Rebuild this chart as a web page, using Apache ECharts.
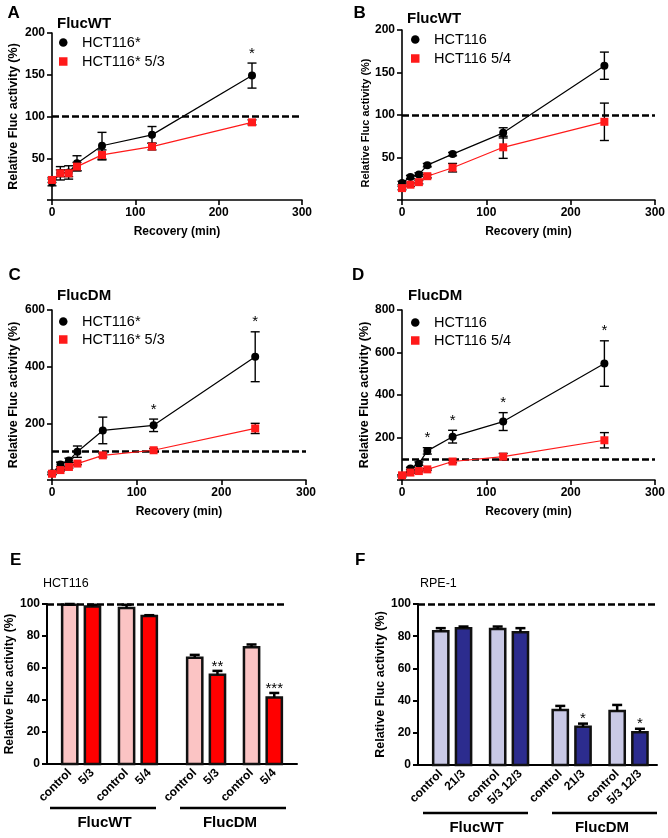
<!DOCTYPE html>
<html><head><meta charset="utf-8">
<script src="https://cdn.jsdelivr.net/npm/echarts@6/dist/echarts.min.js"></script>
<style>html,body{margin:0;padding:0;background:#fff}#c{width:668px;height:838px}</style>
</head><body><div id="c"></div>
<script>
// ---------- data ----------
const times = [0, 10, 20, 30, 60, 120, 240];

const aBlack = [21, 32, 33, 44, 65, 78, 149];
const aBlackErr = [4, 8, 8, 9, 16, 10, 15];
const aRed = [24, 32, 32, 40, 54, 64, 93];
const aRedErr = [3, 4, 4, 5, 6, 4, 3];
const aSig = ['', '', '', '', '', '', '*'];

const bBlack = [20, 27, 30, 41, 54, 79, 158];
const bBlackErr = [2, 2, 2, 2, 2, 6, 16];
const bRed = [14, 18, 21, 28, 38, 62, 92];
const bRedErr = [2, 2, 2, 2, 5, 13, 22];
const bSig = ['', '', '', '', '', '', ''];

const cBlack = [24, 55, 69, 100, 175, 193, 435];
const cBlackErr = [5, 8, 8, 20, 47, 22, 88];
const cRed = [22, 35, 46, 58, 87, 105, 182];
const cRedErr = [3, 3, 4, 4, 6, 6, 18];
const cSig = ['', '', '', '', '', '*', '*'];

const dBlack = [19, 54, 77, 137, 204, 275, 548];
const dBlackErr = [5, 6, 8, 15, 30, 42, 107];
const dRed = [22, 35, 42, 50, 87, 110, 187];
const dRedErr = [3, 3, 3, 4, 6, 15, 36];
const dSig = ['', '', '', '*', '*', '*', '*'];

const eCats = ['control', '5/3', 'control', '5/4', 'control', '5/3', 'control', '5/4'];
const eVals = [99.5, 98.5, 97.5, 92.5, 66.4, 55.8, 73, 41.5];
const eErr = [0.5, 1, 2, 0.5, 1.8, 2.4, 1.7, 2.9];
const eSig = ['', '', '', '', '', '**', '', '***'];

const fCats = ['control', '21/3', 'control', '5/3 12/3', 'control', '21/3', 'control', '5/3 12/3'];
const fVals = [83, 85, 84.5, 82.5, 34.2, 23.7, 33.5, 20.4];
const fErr = [2, 1, 1.5, 2.5, 2.5, 2, 3.8, 2.1];
const fSig = ['', '', '', '', '', '*', '', '*'];

const groupNames = ['FlucWT', 'FlucDM'];
const yName = 'Relative Fluc activity (%)';
const xName = 'Recovery (min)';

// ---------- layout / style ----------
const FONT = 'Liberation Sans, Arial, sans-serif';
const chart = echarts.init(document.getElementById('c'), null, {renderer: 'canvas'});

const grids = [], xAxes = [], yAxes = [], series = [], legends = [], graphics = [];

function errRender(capHalf, lw, upOnly) {
  return function (params, api) {
    const x = api.value(0), m = api.value(1), e = api.value(2);
    const pTop = api.coord([x, m + e]);
    const pBot = upOnly ? api.coord([x, m]) : api.coord([x, m - e]);
    const st = {stroke: '#000', lineWidth: lw};
    const ch = [
      {type: 'line', shape: {x1: pTop[0], y1: pTop[1], x2: pBot[0], y2: pBot[1]}, style: st},
      {type: 'line', shape: {x1: pTop[0] - capHalf, y1: pTop[1], x2: pTop[0] + capHalf, y2: pTop[1]}, style: st}
    ];
    if (!upOnly) ch.push({type: 'line', shape: {x1: pBot[0] - capHalf, y1: pBot[1], x2: pBot[0] + capHalf, y2: pBot[1]}, style: st});
    return {type: 'group', children: ch};
  };
}
function barRender(colors, halfW) {
  return function (params, api) {
    const x = api.value(0), v = api.value(1);
    const pTop = api.coord([x, v]);
    const pBot = api.coord([x, 0]);
    return {type: 'rect', shape: {x: pTop[0] - halfW, y: pTop[1], width: halfW * 2, height: pBot[1] - pTop[1]},
      style: {fill: colors[params.dataIndex % 2], stroke: '#111', lineWidth: 2.5}};
  };
}
function sigRender(labels, dy, size) {
  return function (params, api) {
    const t = labels[params.dataIndex];
    if (!t) return null;
    const p = api.coord([api.value(0), api.value(1)]);
    return {type: 'text', style: {text: t, x: p[0], y: p[1] + dy, align: 'center', verticalAlign: 'bottom',
      textAlign: 'center', textVerticalAlign: 'bottom', font: size + 'px ' + FONT, fill: '#000'}};
  };
}
function txt(text, x, y, font, align) {
  graphics.push({type: 'text', silent: true, style: {text, x, y, font: font + ' ' + FONT, fill: '#000',
    align: align || 'left', verticalAlign: 'middle', textAlign: align || 'left', textVerticalAlign: 'middle'}});
}
function hline(x1, x2, y, w) {
  graphics.push({type: 'line', silent: true, shape: {x1, y1: y, x2, y2: y}, style: {stroke: '#000', lineWidth: w}});
}

const axisLineStyle = {color: '#000', width: 1.6};
const labelStyle = {color: '#000', fontWeight: 'bold', fontSize: 12, fontFamily: FONT};

function linePanel(cfg) {
  const i = grids.length;
  grids.push(cfg.grid);
  xAxes.push({type: 'value', gridIndex: i, min: 0, max: 300, interval: 100,
    axisLine: {show: true, onZero: false, lineStyle: axisLineStyle},
    axisTick: {show: true, length: 5, lineStyle: axisLineStyle},
    axisLabel: Object.assign({margin: 7}, labelStyle), splitLine: {show: false},
    name: xName, nameLocation: 'middle', nameGap: 26,
    nameTextStyle: {color: '#000', fontWeight: 'bold', fontSize: 12, fontFamily: FONT}});
  yAxes.push({type: 'value', gridIndex: i, min: 0, max: cfg.yMax, interval: cfg.yInt,
    axisLine: {show: true, onZero: false, lineStyle: axisLineStyle},
    axisTick: {show: true, length: 5, lineStyle: axisLineStyle},
    axisLabel: Object.assign({margin: 7, formatter: v => v === 0 ? '' : String(v)}, labelStyle),
    splitLine: {show: false},
    name: yName, nameLocation: 'middle', nameGap: cfg.nameGap,
    nameTextStyle: {color: '#000', fontWeight: 'bold', fontSize: cfg.nameSize, fontFamily: FONT,
      padding: cfg.namePad || 0}});
  const base = {xAxisIndex: i, yAxisIndex: i, animation: false};
  series.push(Object.assign({type: 'custom', silent: true, z: 3, renderItem: errRender(4.5, 1.4, false),
    data: times.map((t, k) => [t, cfg.black[k], cfg.blackErr[k]])}, base));
  series.push(Object.assign({type: 'custom', silent: true, z: 3, renderItem: errRender(4.5, 1.4, false),
    data: times.map((t, k) => [t, cfg.red[k], cfg.redErr[k]])}, base));
  series.push(Object.assign({type: 'line', name: cfg.names[0], z: 4, symbol: 'circle', symbolSize: 8,
    itemStyle: {color: '#000'}, lineStyle: {color: '#000', width: 1.2},
    data: times.map((t, k) => [t, cfg.black[k]]),
    markLine: {silent: true, symbol: 'none', label: {show: false}, animation: false,
      lineStyle: {color: '#000', width: 2.5, type: [7, 3]}, data: [{yAxis: 100}]}}, base));
  series.push(Object.assign({type: 'line', name: cfg.names[1], z: 5, symbol: 'rect', symbolSize: 8,
    itemStyle: {color: '#ff1a1a'}, lineStyle: {color: '#ff1a1a', width: 1.2},
    data: times.map((t, k) => [t, cfg.red[k]])}, base));
  series.push(Object.assign({type: 'custom', silent: true, z: 6, renderItem: sigRender(cfg.sig, -2, 15),
    data: times.map((t, k) => [t, cfg.black[k] + cfg.blackErr[k]])}, base));
  legends.push({orient: 'vertical', left: cfg.legend[0], top: cfg.legend[1], itemWidth: 8.5, itemHeight: 8.5,
    itemGap: cfg.legend[2], selectedMode: false, padding: 0,
    textStyle: {color: '#000', fontSize: 14.5, fontFamily: FONT, padding: [0, 0, 0, 9.5]},
    data: [{name: cfg.names[0], icon: 'circle'}, {name: cfg.names[1], icon: 'rect'}]});
}

function barPanel(cfg) {
  const i = grids.length;
  grids.push(cfg.grid);
  const slots = new Array(cfg.nSlots).fill('');
  cfg.pos.forEach((p, k) => { slots[p] = cfg.cats[k]; });
  xAxes.push({type: 'category', gridIndex: i, data: slots, boundaryGap: false,
    axisLine: {show: true, onZero: false, lineStyle: {color: '#000', width: 2}},
    axisTick: {show: false},
    axisLabel: Object.assign({interval: 0, rotate: 45, margin: 7}, labelStyle)});
  yAxes.push({type: 'value', gridIndex: i, min: 0, max: 100, interval: 20,
    axisLine: {show: true, lineStyle: {color: '#000', width: 2}},
    axisTick: {show: true, length: 5, lineStyle: {color: '#000', width: 2}},
    axisLabel: Object.assign({margin: 7}, labelStyle), splitLine: {show: false},
    name: yName, nameLocation: 'middle', nameGap: cfg.nameGap,
    nameTextStyle: {color: '#000', fontWeight: 'bold', fontSize: cfg.nameSize, fontFamily: FONT}});
  const base = {xAxisIndex: i, yAxisIndex: i, animation: false};
  series.push(Object.assign({type: 'custom', silent: true, z: 3, renderItem: barRender([cfg.pale, cfg.dark], 7.6),
    data: cfg.pos.map((p, k) => [p, cfg.vals[k]]),
    markLine: {silent: true, symbol: 'none', label: {show: false}, animation: false,
      lineStyle: {color: '#000', width: 2.5, type: [7, 3]},
      data: [[{coord: [0, 100]}, {coord: [cfg.dashEnd, 100]}]]}}, base));
  series.push(Object.assign({type: 'custom', silent: true, z: 4, renderItem: errRender(5, 2.5, true),
    data: cfg.pos.map((p, k) => [p, cfg.vals[k], cfg.err[k]])}, base));
  series.push(Object.assign({type: 'custom', silent: true, z: 5, renderItem: sigRender(cfg.sig, 3, 15),
    data: cfg.pos.map((p, k) => [p, cfg.vals[k] + cfg.err[k]])}, base));
}

linePanel({grid: {left: 52, top: 33, width: 250, height: 167}, yMax: 200, yInt: 50, nameGap: 32, nameSize: 12.5,
  names: ['HCT116*', 'HCT116* 5/3'], black: aBlack, blackErr: aBlackErr, red: aRed, redErr: aRedErr, sig: aSig,
  legend: [59, 35, 4]});
linePanel({grid: {left: 402, top: 30, width: 255, height: 170}, yMax: 200, yInt: 50, nameGap: 26, nameSize: 11,
  namePad: [0, 16, 0, 0],
  names: ['HCT116', 'HCT116 5/4'], black: bBlack, blackErr: bBlackErr, red: bRed, redErr: bRedErr, sig: bSig,
  legend: [411, 32, 4]});
linePanel({grid: {left: 52, top: 310, width: 254, height: 170}, yMax: 600, yInt: 200, nameGap: 32, nameSize: 12.5,
  names: ['HCT116*', 'HCT116* 5/3'], black: cBlack, blackErr: cBlackErr, red: cRed, redErr: cRedErr, sig: cSig,
  legend: [59, 314, 3]});
linePanel({grid: {left: 402, top: 310, width: 255, height: 170}, yMax: 800, yInt: 200, nameGap: 31, nameSize: 12.5,
  names: ['HCT116', 'HCT116 5/4'], black: dBlack, blackErr: dBlackErr, red: dRed, redErr: dRedErr, sig: dSig,
  legend: [411, 315, 3]});

barPanel({grid: {left: 47, top: 604, width: 250, height: 160}, nSlots: 45, pos: [4, 8, 14, 18, 26, 30, 36, 40],
  dashEnd: 42, cats: eCats, vals: eVals, err: eErr, sig: eSig, pale: '#fbc4c4', dark: '#ff0000',
  nameGap: 30, nameSize: 12});
barPanel({grid: {left: 418, top: 604, width: 239, height: 161}, nSlots: 43, pos: [4, 8, 14, 18, 25, 29, 35, 39],
  dashEnd: 42, cats: fCats, vals: fVals, err: fErr, sig: fSig, pale: '#c9c9e6', dark: '#2c2c8e',
  nameGap: 31, nameSize: 12.5});

// panel letters and titles
txt('A', 7.5, 13.5, 'bold 17px'); txt('B', 353.5, 13.5, 'bold 17px');
txt('C', 8.5, 275, 'bold 17px'); txt('D', 352, 275, 'bold 17px');
txt('E', 10, 560, 'bold 17px'); txt('F', 355, 560, 'bold 17px');
txt('FlucWT', 57, 24, 'bold 15px'); txt('FlucWT', 407, 18.5, 'bold 15px');
txt('FlucDM', 57, 296, 'bold 15px'); txt('FlucDM', 408, 296, 'bold 15px');
txt('HCT116', 43, 584, '12.5px'); txt('RPE-1', 420, 584, '12.5px');
// group brackets
hline(50, 156, 808, 2.5); hline(180, 286, 808, 2.5);
txt(groupNames[0], 104.5, 822.5, 'bold 15px', 'center'); txt(groupNames[1], 230, 822.5, 'bold 15px', 'center');
hline(423, 528, 813, 2.5); hline(552, 657, 813, 2.5);
txt(groupNames[0], 476.5, 827.5, 'bold 15px', 'center'); txt(groupNames[1], 602, 827.5, 'bold 15px', 'center');

chart.setOption({
  backgroundColor: '#fff', animation: false,
  grid: grids, xAxis: xAxes, yAxis: yAxes, series: series, legend: legends, graphic: graphics
});
</script></body></html>
